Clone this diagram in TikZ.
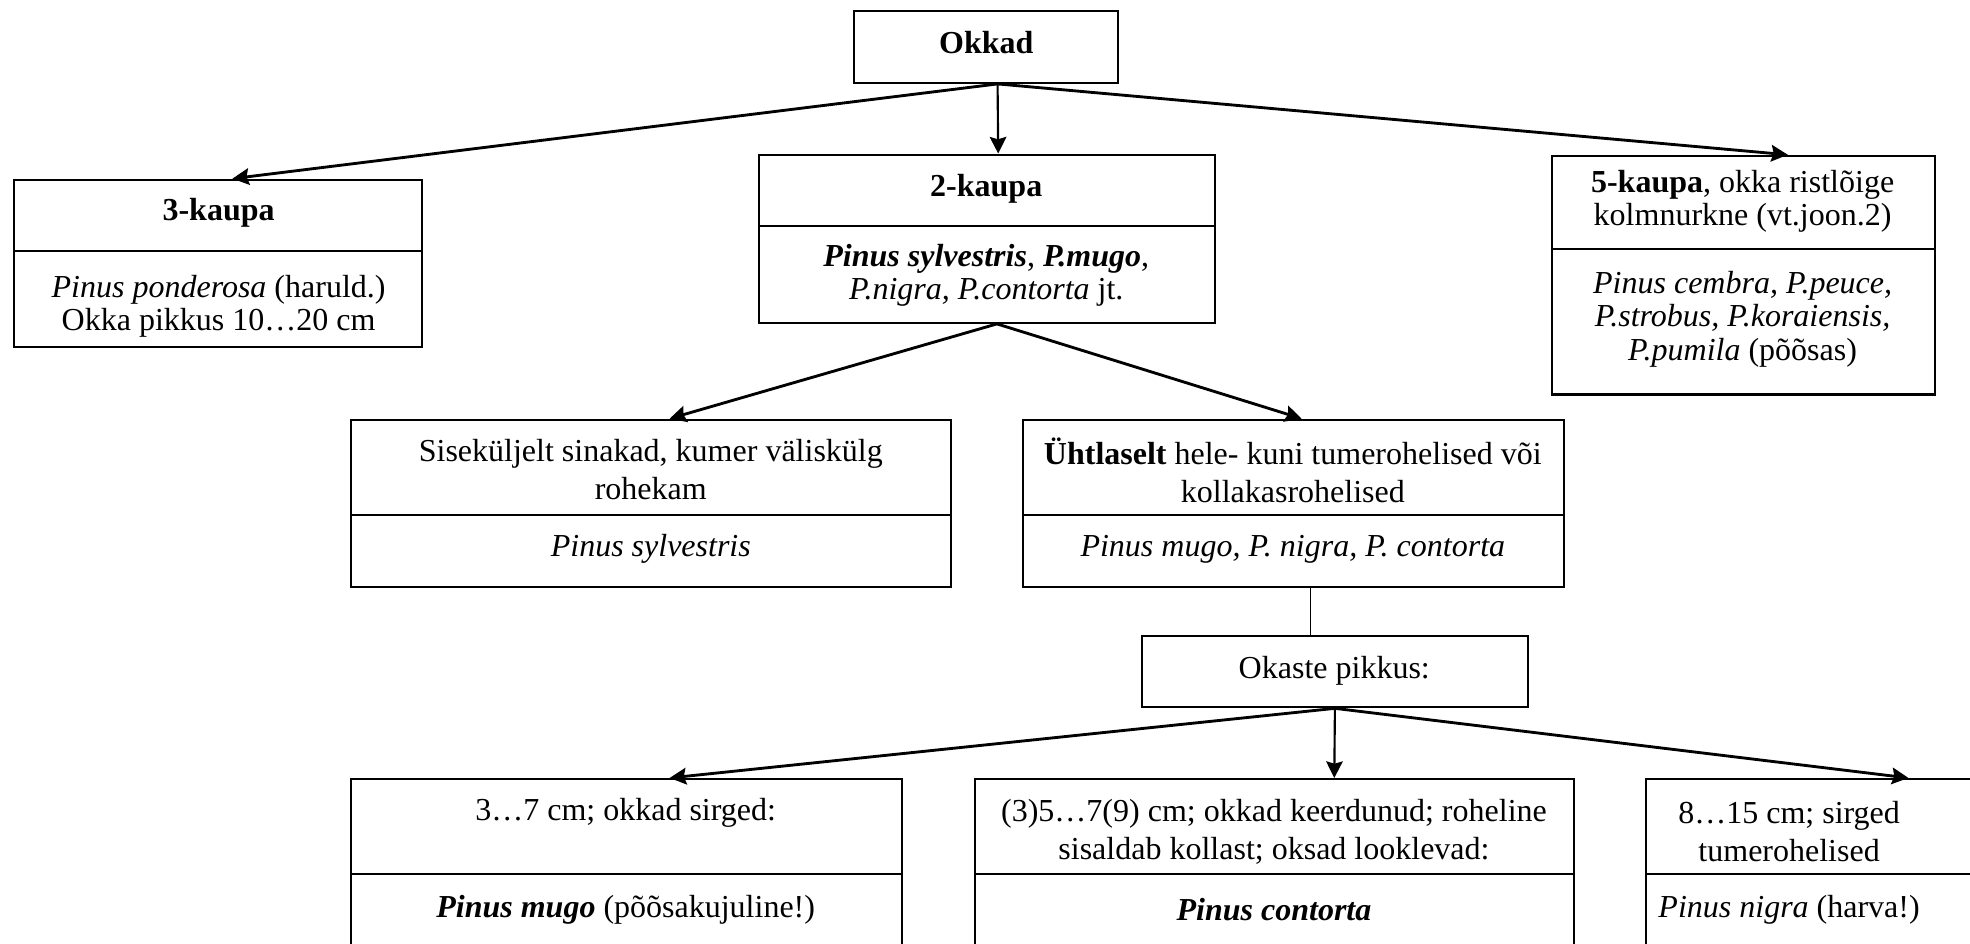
\documentclass[tikz,border=0pt]{standalone}
\usepackage{fontspec}
\setmainfont{Liberation Serif}
\usetikzlibrary{arrows.meta,fit,calc}

\tikzset{
  part/.style={draw, line width=0.85pt, inner sep=0pt, rectangle},
  txt/.style={align=center, inner sep=0pt, font=\fontsize{13.5}{16}\selectfont},
  tight/.style={font=\fontsize{13.5}{14}\selectfont},
  link/.style={line width=1.2pt, -{Stealth[length=7pt,width=7pt,inset=1pt]}},
  vlink/.style={line width=0.9pt, -{Stealth[length=7pt,width=7pt,inset=1pt]}},
  plain/.style={line width=0.5pt}
}

\begin{document}
\begin{tikzpicture}[x=0.53pt, y=-0.53pt]
\useasboundingbox (0,0) rectangle (1568,751);

% top node
\node[part, fit={(680,9) (890,66)}] (okkad) {};
\node[txt, font=\fontsize{13.5}{16}\selectfont\bfseries] (okkadT) at (785,34) {Okkad};

% 3-needle group
\node[part, fit={(11,143) (336,200)}] (k3t) {};
\node[part, fit={(11,200) (336,276)}] (k3b) {};
\node[txt, font=\fontsize{13.5}{16}\selectfont\bfseries] (k3T) at (174,169) {3-kaupa};
\node[txt, tight] (k3B) at (174,244) {\textit{Pinus ponderosa} (haruld.)\\Okka pikkus 10…20 cm};

% 2-needle group
\node[part, fit={(604,123) (967,180)}] (k2t) {};
\node[part, fit={(604,180) (967,257)}] (k2b) {};
\node[txt, font=\fontsize{13.5}{16}\selectfont\bfseries] (k2T) at (785,150) {2-kaupa};
\node[txt, tight] (k2B) at (785,219) {\textbf{\textit{Pinus sylvestris}}, \textbf{\textit{P.mugo}},\\\textit{P.nigra, P.contorta} jt.};

% 5-needle group
\node[part, fit={(1235,124) (1540,198)}] (k5t) {};
\node[part, fit={(1235,198) (1540,314)}] (k5b) {};
\node[txt, tight] (k5T) at (1387,160) {\textbf{5-kaupa}, okka ristlõige\\kolmnurkne (vt.joon.2)};
\node[txt, tight] (k5B) at (1387,254) {\textit{Pinus cembra, P.peuce,}\\\textit{P.strobus, P.koraiensis,}\\\textit{P.pumila} (põõsas)};

% second level
\node[part, fit={(279,334) (757,410)}] (sist) {};
\node[part, fit={(279,410) (757,467)}] (sisb) {};
\node[txt] (sisT) at (518,374) {Siseküljelt sinakad, kumer väliskülg\\rohekam};
\node[txt] (sisB) at (518,437) {\textit{Pinus sylvestris}};

\node[part, fit={(814,334) (1245,410)}] (uht) {};
\node[part, fit={(814,410) (1245,467)}] (uhb) {};
\node[txt] (uhT) at (1029,374) {\textbf{Ühtlaselt} hele- kuni tumerohelised või\\kollakasrohelised};
\node[txt] (uhB) at (1029,437) {\textit{Pinus mugo, P. nigra, P. contorta}};

\node[part, fit={(909,506) (1216,563)}] (okaste) {};
\node[txt] (okasteT) at (1062,534) {Okaste pikkus:};

% third level (boxes run past the lower edge)
\node[part, fit={(279,620) (718,696)}] (b1t) {};
\node[part, fit={(279,696) (718,800)}] (b1b) {};
\node[txt] (b1T) at (498,647) {3…7 cm; okkad sirged:};
\node[txt] (b1B) at (498,724) {\textbf{\textit{Pinus mugo}} (põõsakujuline!)};

\node[part, fit={(776,620) (1253,696)}] (b2t) {};
\node[part, fit={(776,696) (1253,800)}] (b2b) {};
\node[txt] (b2T) at (1014,662) {(3)5…7(9) cm; okkad keerdunud; roheline\\sisaldab kollast; oksad looklevad:};
\node[txt] (b2B) at (1014,724) {\textbf{\textit{Pinus contorta}}};

\node[part, fit={(1310,620) (1620,696)}] (b3t) {};
\node[part, fit={(1310,696) (1620,800)}] (b3b) {};
\node[txt] (b3T) at (1424,662) {8…15 cm; sirged\\tumerohelised};
\node[txt] (b3B) at (1424,724) {\textit{Pinus nigra} (harva!)};

% connectors
\coordinate (okkadOut) at ($(okkad.south)+(9,0)$);
\draw[link] (okkadOut) -- ($(k3t.north)+(11.5,0)$);
\draw[vlink] (okkadOut) -- ($(k2t.north)+(9,0)$);
\draw[link] (okkadOut) -- ($(k5t.north)+(35.5,0)$);

\coordinate (k2Out) at ($(k2b.south)+(8,0)$);
\draw[link] (k2Out) -- ($(sist.north)+(15,0)$);
\draw[link] (k2Out) -- ($(uht.north)+(6.5,0)$);

\draw[plain] ($(uhb.south)+(13.5,0)$) -- ($(okaste.north)+(-19.5,0)$);

\draw[link] (okaste.south) -- ($(b1t.north)+(34.5,0)$);
\draw[vlink] (okaste.south) -- ($(b2t.north)+(47.5,0)$);
\draw[link] (okaste.south) -- ($(b3t.north)+(54,0)$);
\end{tikzpicture}
\end{document}
